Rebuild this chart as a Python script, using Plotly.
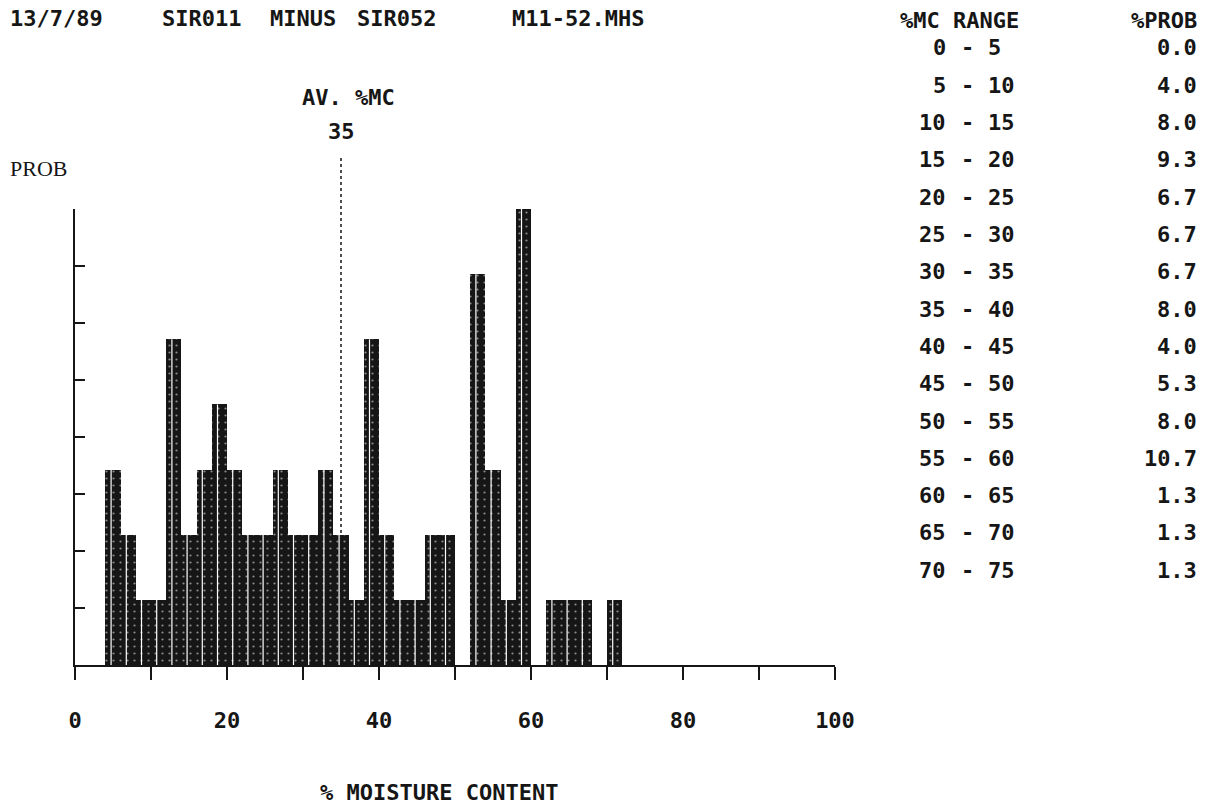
import plotly.graph_objects as go
import numpy as np

# ---- data ----
bin_left = [4, 6, 8, 10, 12, 14, 16, 18, 20, 22, 24, 26, 28, 30, 32, 34, 36, 38,
            40, 42, 44, 46, 48, 52, 54, 56, 58, 62, 64, 66, 70]
bin_count = [3, 2, 1, 1, 5, 2, 3, 4, 3, 2, 2, 3, 2, 2, 3, 2, 1, 5,
             2, 1, 1, 2, 2, 6, 3, 1, 7, 1, 1, 1, 1]
bin_width = 2
avg_mc = 35

range_lo = [0, 5, 10, 15, 20, 25, 30, 35, 40, 45, 50, 55, 60, 65, 70]
range_hi = [5, 10, 15, 20, 25, 30, 35, 40, 45, 50, 55, 60, 65, 70, 75]
pct_prob = [0.0, 4.0, 8.0, 9.3, 6.7, 6.7, 6.7, 8.0, 4.0, 5.3, 8.0, 10.7, 1.3, 1.3, 1.3]

x_ticks = list(range(0, 101, 10))
x_labels = ["0" if v == 0 else (str(v) if v % 20 == 0 else "") for v in x_ticks]

title_words = ["13/7/89", "SIR011", "MINUS", "SIR052", "M11-52.MHS"]

# ---- layout constants ----
W, H = 1206, 807
L, R, T, B = 75, 371, 209, 142
ymax = 7
MONO = "DejaVu Sans Mono"
FS = 22
INK = "#161616"

fig = go.Figure()

centers = [l + bin_width / 2 for l in bin_left]
fig.add_trace(go.Bar(
    x=centers, y=bin_count, width=bin_width,
    marker=dict(color=INK, line=dict(width=0),
                pattern=dict(shape=".", fgcolor="#ffffff", bgcolor=INK,
                             size=7, solidity=0.08)),
    hoverinfo="skip", showlegend=False,
))

# thin white streaks inside each bar (print artifact)
sx, sy = [], []
for l, c in zip(bin_left, bin_count):
    sx += [l + 0.75, l + 0.75, None]
    sy += [0, c, None]
fig.add_trace(go.Scatter(x=sx, y=sy, mode="lines",
                         line=dict(color="white", width=1.2),
                         hoverinfo="skip", showlegend=False))

# average moisture dotted line
ytop_paper = 1 + (T - 155) / (H - T - B)
fig.add_shape(type="line", xref="x", yref="paper",
              x0=avg_mc, x1=avg_mc, y0=0, y1=ytop_paper,
              line=dict(color=INK, width=1.5, dash="dot"), layer="below")

ann = []
title_x = [8, 160, 268, 355, 510]
for w, xp in zip(title_words, title_x):
    ann.append(dict(text=w, x=xp, y=18, xanchor="left"))
ann.append(dict(text="AV. %MC", x=348, y=98, xanchor="center"))
ann.append(dict(text=str(avg_mc), x=341, y=131, xanchor="center"))
ann.append(dict(text="% MOISTURE CONTENT", x=439, y=792, xanchor="center"))

# table
ann.append(dict(text="%MC RANGE", x=898, y=20, xanchor="left"))
ann.append(dict(text="%PROB", x=1199, y=20, xanchor="right"))
for i, (lo, hi, p) in enumerate(zip(range_lo, range_hi, pct_prob)):
    yy = 48 + 37.3 * i
    ann.append(dict(text=str(lo), x=948, y=yy, xanchor="right"))
    ann.append(dict(text="-", x=967, y=yy, xanchor="center"))
    ann.append(dict(text=str(hi), x=986, y=yy, xanchor="left"))
    ann.append(dict(text=f"{p:.1f}", x=1199, y=yy, xanchor="right"))

annotations = []
for a in ann:
    a.update(xref="paper", yref="paper", showarrow=False, yanchor="middle",
             font=dict(family=MONO, size=FS, color=INK, weight="bold"))
    a["x"] = (a["x"] - L) / (W - L - R)
    a["y"] = (H - B - a["y"]) / (H - T - B)
    annotations.append(a)

annotations.append(dict(text="PROB", xref="paper", yref="paper",
                        x=(8 - L) / (W - L - R), y=(H - B - 168) / (H - T - B),
                        xanchor="left", yanchor="middle", showarrow=False,
                        font=dict(family="Liberation Serif", size=22, color=INK)))

fig.update_layout(
    width=W, height=H,
    margin=dict(l=L, r=R, t=T, b=B, pad=0),
    paper_bgcolor="white", plot_bgcolor="white",
    bargap=0,
    annotations=annotations,
    xaxis=dict(range=[0, 100], tickvals=x_ticks, ticktext=x_labels,
               showline=True, linecolor=INK, linewidth=2,
               ticks="outside", ticklen=13, tickwidth=2, tickcolor=INK,
               ticklabelstandoff=22,
               tickfont=dict(family=MONO, size=FS, color=INK, weight="bold"),
               showgrid=False, zeroline=False, fixedrange=True),
    yaxis=dict(range=[0, ymax], tickvals=list(np.linspace(0, ymax, 9)),
               showticklabels=False,
               showline=True, linecolor=INK, linewidth=2,
               ticks="inside", ticklen=10, tickwidth=2, tickcolor=INK,
               showgrid=False, zeroline=False, fixedrange=True),
)

fig.write_html("out.html", config={"displayModeBar": False},
               post_script="document.body.style.margin='0px';document.body.style.padding='0px';")
